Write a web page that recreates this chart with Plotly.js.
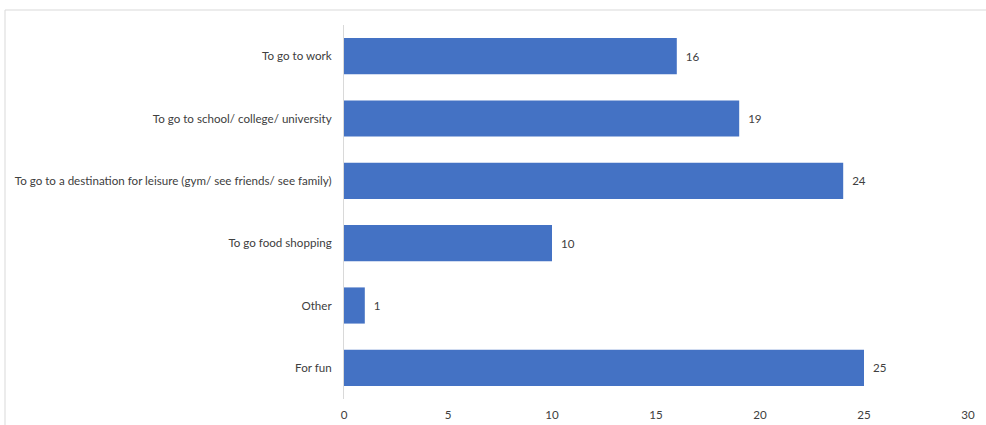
<!DOCTYPE html>
<html><head><meta charset="utf-8">
<script src="https://cdn.plot.ly/plotly-3.0.1.min.js"></script>
<style>html,body{margin:0;padding:0;background:#fff}#c{width:986px;height:425px}</style>
</head><body><div id="c"></div>
<script>
const categories = ["To go to work","To go to school/ college/ university","To go to a destination for leisure (gym/ see friends/ see family)","To go food shopping","Other","For fun"];
const values = [16,19,24,10,1,25];
const xTicks = [0,5,10,15,20,25,30];

const L=344, R=18, T=25, B=26, W=986, H=425;
const pw=W-L-R, ph=H-T-B;
const FS=11.6;
const trace = {
  type:'bar', orientation:'h',
  y: categories, x: values,
  marker:{color:'#4472C4'},
  text: values.map(v => '\u00a0\u00a0' + v), textposition:'outside',
  textfont:{family:'Lato, "Open Sans", sans-serif', size:FS, color:'#404040'},
  cliponaxis:false, hoverinfo:'skip'
};
const layout = {
  width:W, height:H,
  margin:{l:L,r:R,t:T,b:B,pad:0},
  paper_bgcolor:'#fff', plot_bgcolor:'#fff',
  bargap:0.42, showlegend:false,
  font:{family:'Lato, "Open Sans", sans-serif', size:FS, color:'#404040'},
  xaxis:{range:[0,30], tickvals:xTicks, ticktext:xTicks.map(String), showgrid:false, zeroline:false, showline:false,
    ticks:'outside', ticklen:5, tickcolor:'rgba(0,0,0,0)', tickfont:{size:FS, color:'#404040'}, fixedrange:true},
  yaxis:{autorange:'reversed', showgrid:false, zeroline:false, showline:true, linecolor:'#d9d9d9', linewidth:1,
    ticks:'outside', ticklen:9, tickcolor:'rgba(0,0,0,0)', tickfont:{size:FS, color:'#404040'}, fixedrange:true},
  shapes:[{type:'rect', xref:'paper', yref:'paper',
    x0:(5-L)/pw, x1:1.2, y0:-0.3, y1:(H-B-10)/ph,
    line:{color:'#d9d9d9', width:1}, fillcolor:'rgba(0,0,0,0)', layer:'below'}]
};
Plotly.newPlot('c',[trace],layout,{staticPlot:true,displayModeBar:false});
</script></body></html>
